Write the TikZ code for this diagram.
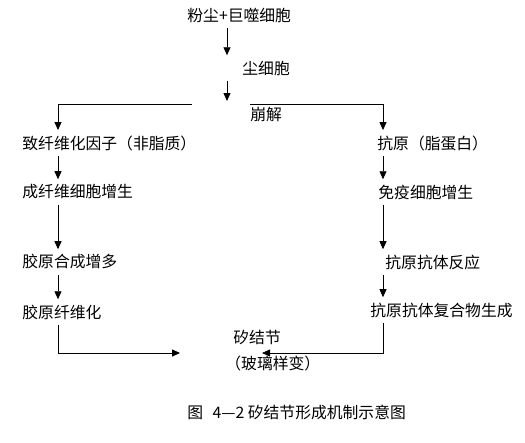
\documentclass[tikz,border=0pt]{standalone}
\usepackage{fontspec}
\newfontfamily\cjk{Noto Sans CJK SC}
\usetikzlibrary{arrows.meta,calc,positioning}

\begin{document}
\begin{tikzpicture}[x=1pt,y=-1pt,>={Triangle[length=8pt,width=7pt]},
 line width=0.8pt, every node/.style={font=\cjk\fontsize{15.8}{18}\selectfont},
 txt/.style={anchor=west,inner xsep=0pt,inner ysep=5pt}]
\useasboundingbox (0,0) rectangle (525,442);
\node[txt] (dust) at (187,15) {粉尘+巨噬细胞};
\node[txt] (cell) at (242,68) {尘细胞};
\node[txt] (disint) at (250,115) {崩解};
\node[txt] (l1) at (22,143) {致纤维化因子（非脂质）};
\node[txt] (r1) at (377,143) {抗原（脂蛋白）};
\node[txt] (l2) at (22,192) {成纤维细胞增生};
\node[txt] (r2) at (378,192) {免疫细胞增生};
\node[txt] (l3) at (22,262) {胶原合成增多};
\node[txt] (r3) at (385,262) {抗原抗体反应};
\node[txt] (l4) at (22,312) {胶原纤维化};
\node[txt] (r4) at (370,310) {抗原抗体复合物生成};
\node[txt] (nod) at (233,337) {矽结节};
\node[txt] (glass) at (225,363) {（玻璃样变）};
\node[txt] (cap) at (187,412) {图\hspace{0.6em}4—2 矽结节形成机制示意图};
% columns and free ends
\coordinate (lx) at (58,0); \coordinate (rx) at (383,0); \coordinate (ax) at (227,0);
\coordinate (fork) at (227,101);
\coordinate (forkL) at (192,104); \coordinate (forkR) at (250,104);
\coordinate (joinL) at (180,353); \coordinate (joinR) at (262,353);
\draw[->] (dust.south -| ax)--(cell.north -| ax);
\draw[->] (cell.south -| ax)--(fork);
\draw[->] (forkL) -| (l1.north -| lx);
\draw[->] (forkR) -| (r1.north -| rx);
\draw[->] (l1.south -| lx)--(l2.north -| lx);\draw[->] (l2.south -| lx)--(l3.north -| lx);
\draw[->] (l3.south -| lx)--(l4.north -| lx);
\draw[->] (r1.south -| rx)--(r2.north -| rx);\draw[->] (r2.south -| rx)--(r3.north -| rx);
\draw[->] (r3.south -| rx)--(r4.north -| rx);
\draw[->] (l4.south -| lx) |- (joinL);
\draw[->] (r4.south -| rx) |- (joinR);
\end{tikzpicture}
\end{document}
